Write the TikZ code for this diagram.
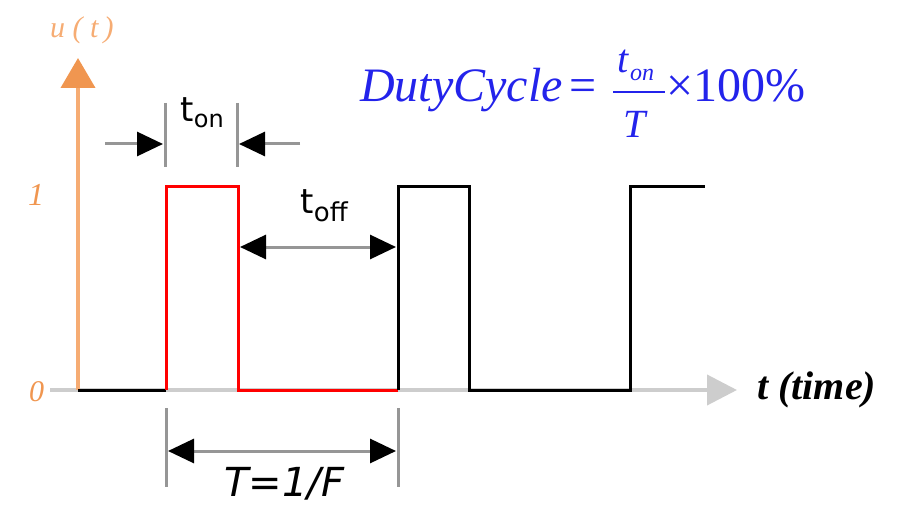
\documentclass[tikz,border=0pt]{standalone}
\usepackage{fontspec}
\setmainfont{Liberation Serif}
\newfontfamily\lblfont{DejaVu Sans}
\usetikzlibrary{arrows.meta}
\definecolor{axorange}{RGB}{246,172,115}
\definecolor{axorangedk}{RGB}{240,150,80}
\definecolor{axgray}{RGB}{205,205,205}
\definecolor{dimgray}{RGB}{150,150,150}
\definecolor{eqblue}{RGB}{35,35,235}
\tikzset{
  sig/.style={line width=3pt, line join=miter},
  tick/.style={dimgray, line width=3pt},
  dimarrow/.style={dimgray, line width=3pt},
  dhead/.tip={Triangle[length=26pt,width=24pt,black]},
  txt/.style={inner sep=0pt, anchor=base west},
  eq/.style={txt, text=eqblue},
}
\begin{document}
\begin{tikzpicture}[x=1pt,y=-1pt]
\useasboundingbox (0,0) rectangle (907,505);
% axes
\draw[axgray, line width=4pt, -{Triangle[length=30pt,width=30pt]}] (50,390) coordinate (xs) -- (737,390) coordinate (xe);
\draw[axorange, line width=4pt, -{Triangle[length=30pt,width=34pt,axorangedk]}] (78,390) coordinate (ys) -- (78,58) coordinate (ye);
\node[txt, text=axorange, font=\fontsize{30}{30}\selectfont\itshape] (ulabel) at (50,38) {u ( t\,)};
\node[txt, text=axorangedk, font=\fontsize{32}{32}\selectfont\itshape] (one) at (28,206) {1};
\node[txt, text=axorangedk, font=\fontsize{30}{30}\selectfont\itshape] (zero) at (29,401) {0};
\node[txt, font=\fontsize{40}{40}\selectfont\bfseries\itshape] (tlabel) at (757,399) {t (time)};
% signal
\draw[sig, black] (78,390) -- (166,390);
\draw[sig, red] (166,390) -- (166,187) -- (238,187) -- (238,390) -- (398,390);
\draw[sig, black] (398,390) -- (398,187) -- (469,187) -- (469,390) -- (630,390) -- (630,187) -- (705,187);
% t_on dimension
\coordinate (on1t) at (165,103); \coordinate (on1b) at (165,167);
\coordinate (on2t) at (237,103); \coordinate (on2b) at (237,167);
\draw[tick] (on1t) -- (on1b);
\draw[tick] (on2t) -- (on2b);
\coordinate (onl) at (105,144); \coordinate (onlt) at (163,144);
\coordinate (onr) at (300,144); \coordinate (onrt) at (239,144);
\draw[dimarrow, -dhead] (onl) -- (onlt);
\draw[dimarrow, -dhead] (onr) -- (onrt);
\node[txt, font=\lblfont\fontsize{34}{34}\selectfont] (ton) at (180,122) {t};
\node[txt, font=\lblfont\fontsize{24}{24}\selectfont] (tonsub) at (ton.base east) {\raisebox{-6pt}{on}};
% t_off dimension
\coordinate (offl) at (240,247); \coordinate (offr) at (396,247);
\draw[dimarrow, dhead-dhead] (offl) -- (offr);
\node[txt, font=\lblfont\fontsize{34}{34}\selectfont] (toff) at (300,213) {t};
\node[txt, font=\lblfont\fontsize{26}{26}\selectfont] (toffsub) at (toff.base east) {\raisebox{-8pt}{off}};
% T dimension
\coordinate (T1t) at (166,408); \coordinate (T1b) at (166,487);
\coordinate (T2t) at (398,408); \coordinate (T2b) at (398,487);
\draw[tick] (T1t) -- (T1b);
\draw[tick] (T2t) -- (T2b);
\coordinate (Tl) at (168,451); \coordinate (Tr) at (396,451);
\draw[dimarrow, dhead-dhead] (Tl) -- (Tr);
\node[txt, font=\lblfont\fontsize{40}{40}\selectfont\itshape] (Tlab) at (224,496) {T=1/F};
% equation
\node[eq, font=\fontsize{48}{48}\selectfont\itshape] (dc) at (360,102) {DutyCycle};
\node[eq, font=\fontsize{48}{48}\selectfont] (eqs) at (569,102) {=};
\coordinate (barl) at (613,92); \coordinate (barr) at (665,92);
\draw[eqblue, line width=2pt] (barl) -- (barr);
\node[eq, font=\fontsize{40}{40}\selectfont\itshape] (num) at (617,73) {t};
\node[eq, font=\fontsize{24}{24}\selectfont\itshape] (numsub) at (630,81) {on};
\node[eq, font=\fontsize{40}{40}\selectfont\itshape] (den) at (623,138) {T};
\node[eq, font=\fontsize{48}{48}\selectfont] (pct) at (666,102) {×100\%};
\end{tikzpicture}
\end{document}
